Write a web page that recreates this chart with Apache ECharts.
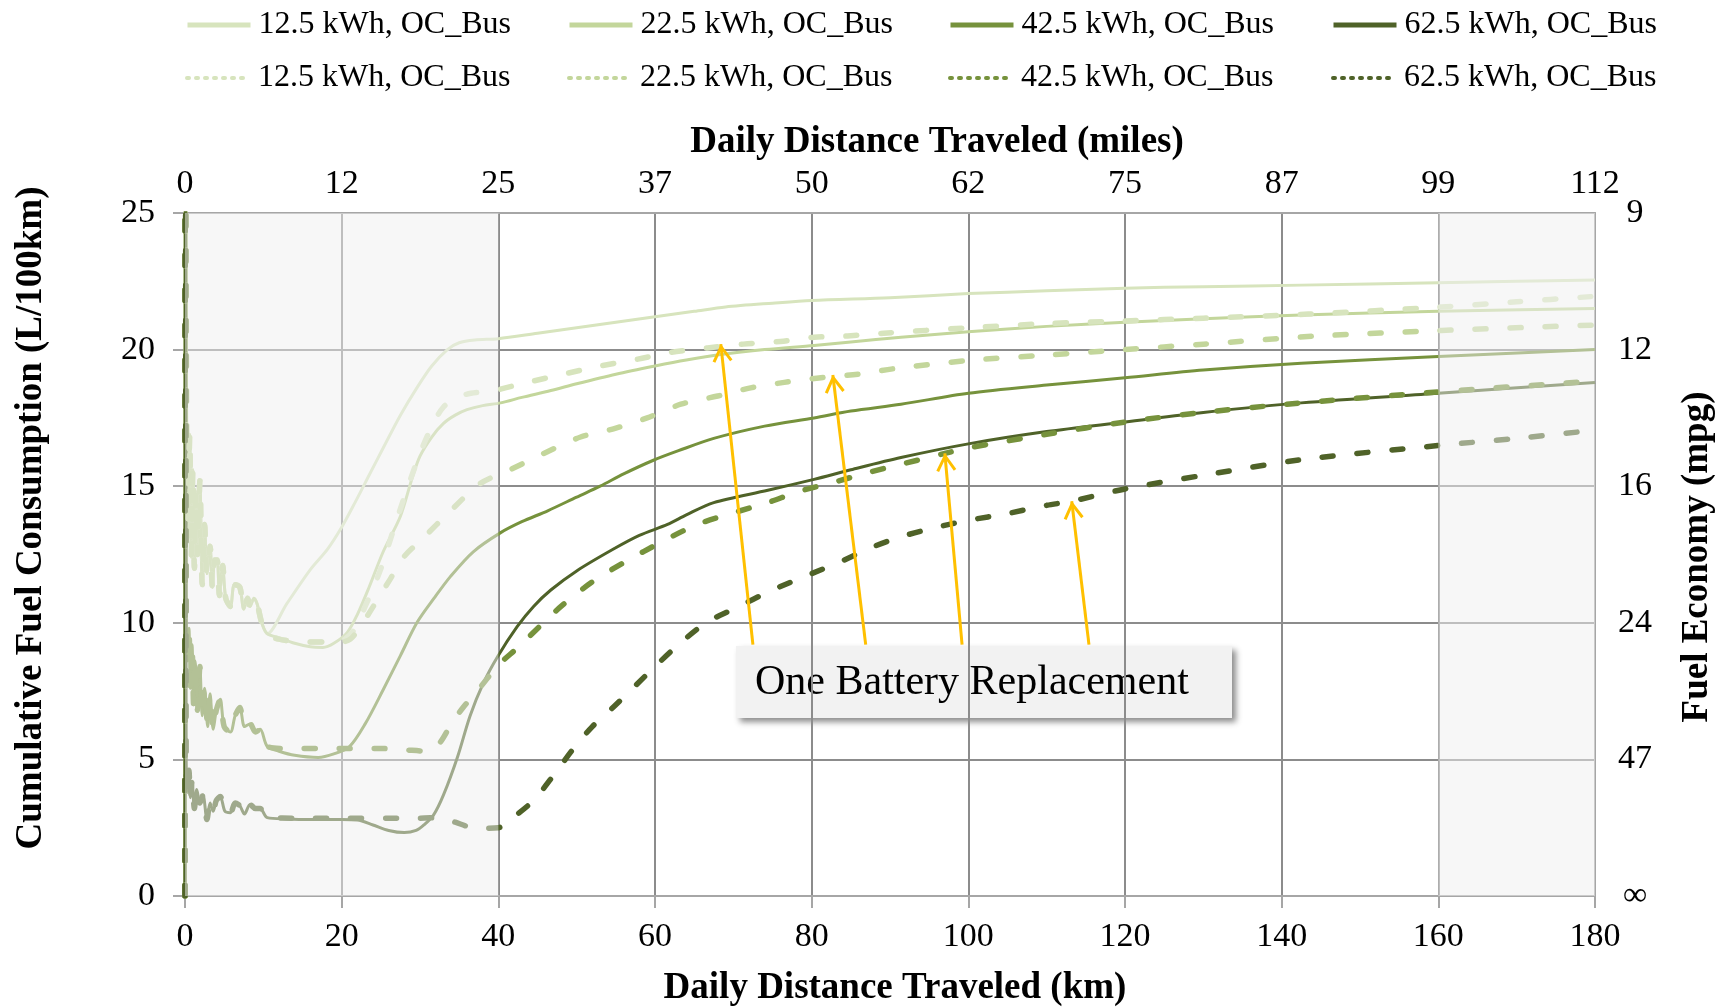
<!DOCTYPE html>
<html>
<head>
<meta charset="utf-8">
<script src="https://cdn.jsdelivr.net/npm/echarts@6/dist/echarts.min.js"></script>
<style>
  html, body { margin: 0; padding: 0; background: #fff; }
  #chart { width: 1728px; height: 1008px; }
</style>
</head>
<body>
<div id="chart"></div>
<script>
// noisy start of each battery group (km, L/100km)
const noiseUpper = [[0,0],[0.05,40],[0.2,17.8],[0.4,13.6],[0.6,16.9],[0.8,12.4],[1.0,15.6],[1.2,12.0],[1.4,14.8],[1.6,12.5],[1.9,15.2],[2.2,11.4],[2.5,13.6],[2.8,11.8],[3.2,12.8],[3.5,11.3],[3.8,12.3],[4.1,12.3],[4.4,11.0],[4.8,12.1],[5.2,10.9],[5.8,10.6],[6.3,11.4],[7.0,11.3],[7.5,10.5],[8.0,10.9],[8.3,10.6],[8.8,10.9],[9.2,10.7],[9.8,10.0],[10.5,9.6]];
const noiseMid = [[0,0],[0.05,40],[0.15,10.5],[0.3,8.6],[0.5,9.8],[0.7,7.6],[0.9,9.2],[1.1,7.0],[1.3,8.6],[1.6,6.8],[1.9,8.4],[2.2,6.6],[2.5,7.6],[2.9,6.2],[3.2,7.4],[3.6,6.1],[4.0,6.8],[4.5,7.2],[5.0,6.2],[5.8,6.0],[6.4,6.6],[7.0,6.9],[7.6,6.2],[8.3,6.3],[9.0,6.0],[9.6,6.1],[10.5,5.47]];
const noiseLow = [[0,0],[0.05,40],[0.15,5.0],[0.3,3.8],[0.5,4.6],[0.7,3.6],[0.9,4.2],[1.2,3.2],[1.5,3.9],[1.9,3.4],[2.3,3.7],[2.8,2.8],[3.2,3.4],[3.6,3.1],[4.0,3.5],[4.5,3.64],[5.1,3.1],[5.8,3.05],[6.4,3.4],[7.0,3.3],[7.6,3.0],[8.3,3.35],[9.0,3.2],[9.6,3.2],[10.5,2.87]];

// solid = no replacement, dashed = one battery replacement
const kwh12Solid = [[13,10.7],[16,11.95],[18.2,12.7],[20,13.5],[21.7,14.4],[23.5,15.4],[25.3,16.4],[27.5,17.6],[29.6,18.6],[31.5,19.4],[33.5,20.0],[35,20.25],[37,20.35],[40,20.4],[45,20.6],[50,20.8],[55,21.0],[60,21.2],[65,21.4],[69,21.56],[75,21.7],[80,21.8],[90,21.9],[100,22.05],[110,22.15],[120,22.25],[130,22.3],[142.5,22.36],[160,22.45],[170,22.5],[180,22.55]];
const kwh12Dashed = [[12,9.4],[15,9.3],[18,9.3],[20,9.35],[21.5,9.7],[23,10.6],[24.9,11.9],[26.5,13.3],[28,14.6],[30,16.2],[31.7,17.3],[33,17.9],[34.7,18.25],[36.5,18.4],[39.4,18.5],[43.7,18.8],[48.3,19.1],[53,19.4],[57.8,19.65],[62,19.9],[66.7,20.06],[71.3,20.2],[76,20.3],[80.3,20.45],[84.6,20.5],[89.2,20.6],[100,20.8],[110,20.95],[120,21.05],[130,21.15],[143.4,21.3],[160.4,21.56],[170,21.75],[180,21.95]];
const kwh22Solid = [[12,9.45],[14,9.25],[16,9.12],[17.6,9.1],[19,9.25],[20.7,9.64],[22,10.3],[23.5,11.3],[25.3,12.6],[27.5,13.9],[29,15.3],[30,16.1],[31.5,16.8],[33,17.3],[34.5,17.6],[36,17.8],[38,17.95],[40.3,18.05],[43,18.25],[46.7,18.5],[50,18.75],[55,19.1],[60,19.4],[64,19.62],[68.4,19.82],[74,20.0],[80.3,20.15],[85,20.28],[91.4,20.45],[100,20.65],[110,20.85],[120,21.0],[130,21.13],[142.5,21.27],[160,21.4],[180,21.5]];
const kwh22Dashed = [[12,9.4],[15,9.3],[18,9.3],[20,9.3],[21.1,9.4],[22.5,9.9],[23.6,10.4],[26.2,11.6],[27.9,12.4],[30.4,13.1],[33.9,14.1],[37.7,15.1],[41.5,15.6],[45.8,16.2],[50.5,16.8],[54.7,17.1],[59,17.5],[63.3,18.0],[68,18.3],[72.2,18.6],[76.5,18.8],[81.2,18.97],[85.9,19.1],[90.5,19.3],[100,19.6],[110,19.8],[120,20.0],[130,20.2],[144.7,20.5],[160.4,20.7],[180,20.9]];
const kwh42Solid = [[12,5.3],[14,5.15],[17,5.07],[19,5.2],[21,5.47],[23,6.3],[25.3,7.55],[27.5,8.8],[29.6,10.0],[31.8,10.9],[33.9,11.7],[36.8,12.6],[40.3,13.3],[43,13.7],[46.3,14.1],[50,14.6],[53,15.0],[56,15.45],[59.8,15.95],[63,16.3],[67.5,16.75],[74,17.2],[80.3,17.5],[85,17.75],[91.4,18.0],[100,18.4],[110,18.7],[120,18.97],[130,19.25],[142.5,19.5],[160,19.75],[180,20.0]];
const kwh42Dashed = [[13,5.4],[17,5.4],[21,5.4],[25,5.4],[28,5.35],[31,5.3],[32.5,5.6],[34,6.3],[35.5,6.9],[37.3,7.5],[40,8.45],[42.5,9.1],[45.4,9.9],[48,10.6],[52,11.5],[56,12.2],[61.1,13.0],[65.4,13.6],[69.7,14.0],[74.4,14.4],[78.3,14.8],[82.9,15.15],[87.2,15.5],[91.4,15.8],[97,16.2],[100,16.4],[110,16.9],[120,17.35],[130,17.7],[142.5,18.05],[160,18.45],[180,18.85]];
const kwh62Solid = [[13,2.82],[16,2.8],[20,2.8],[22,2.78],[24,2.6],[26,2.4],[28,2.32],[29.5,2.4],[30.5,2.6],[31.7,2.95],[33,3.7],[34.8,5.1],[36.4,6.6],[38.1,7.8],[39.9,8.76],[42.4,9.86],[44.5,10.6],[46.7,11.2],[50,11.9],[54.7,12.7],[58,13.2],[61.6,13.6],[64,13.95],[67.5,14.4],[74.4,14.85],[80.3,15.25],[85,15.6],[91.4,16.05],[100,16.55],[110,17.0],[120,17.35],[130,17.7],[142.5,18.05],[160,18.4],[180,18.8]];
const kwh62Dashed = [[14,2.85],[20,2.85],[26,2.85],[30,2.85],[32.6,2.87],[34.5,2.7],[36.4,2.52],[38,2.48],[40,2.5],[42,2.9],[44.5,3.5],[47,4.4],[49.6,5.4],[52,6.2],[55,7.0],[57.5,7.7],[60,8.4],[63,9.2],[66.5,10.0],[70,10.5],[75,11.2],[80,11.8],[83.4,12.2],[88,12.8],[92,13.2],[96,13.5],[100,13.75],[105,14.0],[110,14.3],[113.2,14.45],[120,14.9],[130,15.4],[142.5,15.97],[160.4,16.5],[170,16.75],[180,17.05]];

// shaded ranges and annotation arrows (km)
const shadedRanges = [[0, 40], [160, 180]];
const arrowTails = [[72.5, 9.2], [86.9, 9.2], [99.2, 9.2], [115.4, 9.2]];
const arrowTips = [[68.4, 20.2], [82.7, 19.07], [97, 16.2], [113.2, 14.45]];

const SUFFIX = ' (replaced)';
const lines = [
  { name: '12.5 kWh, OC_Bus', color: '#D7E4BD', dashed: false, start: noiseUpper, data: kwh12Solid },
  { name: '22.5 kWh, OC_Bus', color: '#C3D69B', dashed: false, start: noiseUpper, data: kwh22Solid },
  { name: '42.5 kWh, OC_Bus', color: '#76923C', dashed: false, start: noiseMid, data: kwh42Solid },
  { name: '62.5 kWh, OC_Bus', color: '#4F6228', dashed: false, start: noiseLow, data: kwh62Solid },
  { name: '12.5 kWh, OC_Bus' + SUFFIX, color: '#D7E4BD', dashed: true, start: noiseUpper, data: kwh12Dashed },
  { name: '22.5 kWh, OC_Bus' + SUFFIX, color: '#C3D69B', dashed: true, start: noiseUpper, data: kwh22Dashed },
  { name: '42.5 kWh, OC_Bus' + SUFFIX, color: '#76923C', dashed: true, start: noiseMid, data: kwh42Dashed },
  { name: '62.5 kWh, OC_Bus' + SUFFIX, color: '#4F6228', dashed: true, start: noiseLow, data: kwh62Dashed },
];

const FONT = '"Liberation Serif", "Times New Roman", serif';
const legendCols = [185, 567, 948, 1331];
const legendRows = [9, 62];

const legends = lines.map((l, i) => ({
  data: [l.name],
  left: legendCols[i % 4],
  top: legendRows[l.dashed ? 1 : 0],
  padding: 0,
  itemWidth: 63,
  itemHeight: 14,
  itemGap: 0,
  selectedMode: false,
  formatter: n => n.replace(SUFFIX, ''),
  textStyle: { fontFamily: FONT, fontSize: 32, color: '#000', padding: [0, 0, 0, 3] },
  itemStyle: { opacity: 0 },
  lineStyle: l.dashed ? { width: 4, type: [2, 7], cap: 'round' } : { width: 5 },
}));

const series = lines.map(l => ({
  name: l.name,
  type: 'line',
  data: l.start.concat(l.data),
  symbol: 'none',
  smooth: 0.3,
  z: 2,
  lineStyle: l.dashed
    ? { color: l.color, width: 5.5, type: [11, 24], cap: 'round', join: 'round' }
    : { color: l.color, width: 3, join: 'round' },
  itemStyle: { color: l.color },
}));

// overlay for the shaded ranges + arrows
series.push({
  name: 'overlay',
  type: 'line',
  data: [],
  z: 10,
  silent: true,
  markArea: {
    silent: true,
    z: 10,
    itemStyle: { color: 'rgba(240,240,240,0.5)' },
    data: shadedRanges.map(r => [{ xAxis: r[0] }, { xAxis: r[1] }]),
  },
  markLine: {
    silent: true,
    z: 11,
    symbol: ['none', 'path://M10,0 L10.01,0 Z M10,17 L20,33 L17.4,34.5 L10,22.5 L2.6,34.5 L0,33 Z'],
    symbolSize: [20, 36],
    label: { show: false },
    lineStyle: { color: '#FFC000', width: 3, type: 'solid' },
    emphasis: { disabled: true },
    data: arrowTails.map((t, i) => [{ coord: t }, { coord: arrowTips[i] }]),
  },
});

const axisLabel = { fontFamily: FONT, fontSize: 34, color: '#000' };
const titleStyle = { fontFamily: FONT, fontSize: 37, fontWeight: 'bold', fill: '#000', align: 'center', verticalAlign: 'middle' };

const chart = echarts.init(document.getElementById('chart'));
chart.setOption({
  animation: false,
  backgroundColor: '#fff',
  legend: legends,
  grid: { left: 185, right: 133, top: 213, bottom: 112 },
  xAxis: [
    {
      type: 'value', min: 0, max: 180, interval: 20, position: 'bottom',
      axisLine: { show: true, onZero: false, lineStyle: { color: '#a6a6a6', width: 2 } },
      axisTick: { show: true, length: 12, lineStyle: { color: '#a6a6a6', width: 2 } },
      splitLine: { show: true, lineStyle: { color: '#8c8c8c', width: 2 } },
      axisLabel: { ...axisLabel, margin: 24 },
    },
    {
      type: 'value', min: 0, max: 180, interval: 20, position: 'top',
      axisLine: { show: true, onZero: false, lineStyle: { color: '#a6a6a6', width: 2 } },
      axisTick: { show: false },
      splitLine: { show: false },
      axisLabel: { ...axisLabel, margin: 12, formatter: v => Math.round(v * 0.621371) },
    },
  ],
  yAxis: [
    {
      type: 'value', min: 0, max: 25, interval: 5, position: 'left',
      axisLine: { show: true, onZero: false, lineStyle: { color: '#a6a6a6', width: 2 } },
      axisTick: { show: true, length: 12, lineStyle: { color: '#a6a6a6', width: 2 } },
      splitLine: { show: true, lineStyle: { color: '#8c8c8c', width: 2 } },
      axisLabel: { ...axisLabel, margin: 30 },
    },
    {
      type: 'value', min: 0, max: 25, interval: 5, position: 'right',
      axisLine: { show: true, onZero: false, lineStyle: { color: '#a6a6a6', width: 2 } },
      axisTick: { show: false },
      splitLine: { show: false },
      axisLabel: { ...axisLabel, margin: 40, align: 'center', formatter: v => (v === 0 ? '∞' : Math.round(235.215 / v)) },
    },
  ],
  graphic: [
    { type: 'text', x: 895, y: 988, z: 100, style: { ...titleStyle, text: 'Daily Distance Traveled (km)' } },
    { type: 'text', x: 937, y: 142, z: 100, style: { ...titleStyle, text: 'Daily Distance Traveled (miles)' } },
    { type: 'text', x: 31, y: 518, rotation: Math.PI / 2, z: 100, style: { ...titleStyle, text: 'Cumulative Fuel Consumption (L/100km)' } },
    { type: 'text', x: 1697, y: 557, rotation: Math.PI / 2, z: 100, style: { ...titleStyle, text: 'Fuel Economy (mpg)' } },
    {
      type: 'group', x: 736, y: 646, z: 100,
      children: [
        { type: 'rect', shape: { x: 0, y: 0, width: 496, height: 72 }, style: { fill: '#F2F2F2', shadowBlur: 6, shadowOffsetX: 4, shadowOffsetY: 4, shadowColor: 'rgba(0,0,0,0.45)' } },
        { type: 'text', x: 19, y: 37, style: { text: 'One Battery Replacement', fontFamily: FONT, fontSize: 42, fill: '#000', verticalAlign: 'middle' } },
      ],
    },
  ],
  series: series,
});
</script>
</body>
</html>
